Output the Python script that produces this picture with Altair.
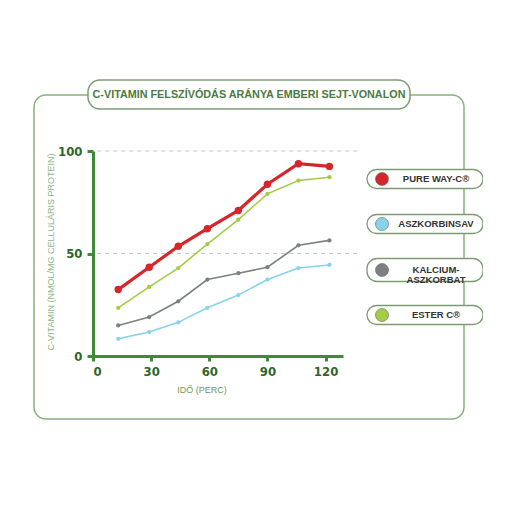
import altair as alt
import pandas as pd

# ---- data ----
minutes = [13, 29, 44, 59, 75, 90, 106, 122]
pure_way = [32.4, 43.3, 53.5, 62.1, 71.0, 83.8, 93.8, 92.5]
aszkorbinsav = [8.4, 11.7, 16.4, 23.5, 29.7, 37.3, 42.9, 44.4]
kalcium = [14.9, 19.0, 26.7, 37.3, 40.4, 43.3, 54.0, 56.4]
ester = [23.5, 33.7, 42.9, 54.6, 66.5, 79.1, 85.6, 87.2]

series_names = ["PURE WAY-C®", "ASZKORBINSAV", "KALCIUM-ASZKORBAT", "ESTER C®"]
series_values = [pure_way, aszkorbinsav, kalcium, ester]
series_colors = ["#d7262b", "#86d3ea", "#7d8080", "#a2cd45"]
legend_labels = ["PURE WAY-C®", "ASZKORBINSAV", "KALCIUM-\nASZKORBAT", "ESTER C®"]

x_ticks = [0, 30, 60, 90, 120]
y_ticks = [0, 50, 100]
grid_values = [50, 100]

title_text = "C-VITAMIN FELSZÍVÓDÁS ARÁNYA EMBERI SEJT-VONALON"
x_title = "IDŐ (PERC)"
y_title = "C-VITAMIN (NMOL/MG CELLULÁRIS PROTEIN)"

rows = []
for name, vals in zip(series_names, series_values):
    for m, v in zip(minutes, vals):
        rows.append({"series": name, "minute": m, "value": v})
df = pd.DataFrame(rows)
df_red = df[df.series == series_names[0]]
df_other = df[df.series != series_names[0]]

one = pd.DataFrame({"d": [0]})
FONT = "Liberation Sans, Arial, sans-serif"
NARROW = "DejaVu Sans Condensed, Liberation Sans Narrow, Liberation Sans, sans-serif"
AXIS_GREEN = "#3f8a36"
LABEL_GREEN = "#2f6629"

xs = alt.Scale(domain=[0, 129], nice=False)
ys = alt.Scale(domain=[0, 100], nice=False)
cs = alt.Scale(domain=series_names, range=series_colors)

x_axis = alt.Axis(values=x_ticks, title=None, grid=False, domainColor=AXIS_GREEN,
                  domainWidth=3, tickColor=AXIS_GREEN, tickWidth=3, tickSize=5,
                  labelFont=NARROW, labelFontWeight="bold", labelFontSize=13,
                  labelColor=LABEL_GREEN, labelPadding=4)
y_axis = alt.Axis(values=y_ticks, title=None, grid=False, domainColor=AXIS_GREEN,
                  domainWidth=3, tickColor=AXIS_GREEN, tickWidth=3, tickSize=6,
                  labelFont=NARROW, labelFontWeight="bold", labelFontSize=13,
                  labelColor=LABEL_GREEN, labelPadding=5)

# ---- decorations ----
outer_box = alt.Chart(one).mark_rect(
    cornerRadius=12, fill="white", fillOpacity=0, stroke="#86b27a", strokeWidth=1.5
).encode(x=alt.value(-59), x2=alt.value(371), y=alt.value(-56), y2=alt.value(268))

title_box = alt.Chart(one).mark_rect(
    cornerRadius=12, fill="white", stroke="#7f9a78", strokeWidth=1.5
).encode(x=alt.value(-5), x2=alt.value(317), y=alt.value(-71), y2=alt.value(-42))

title_mark = alt.Chart(one).mark_text(
    font=FONT, fontSize=10.8, fontWeight="bold", color="#4b7a3f",
    align="center", baseline="middle"
).encode(x=alt.value(156), y=alt.value(-56), text=alt.value(title_text))

grid_df = pd.DataFrame({"g": grid_values})
grid = alt.Chart(grid_df).mark_rule(
    color="#c8c8c8", strokeDash=[4, 4], strokeWidth=1
).encode(y=alt.Y("g:Q", scale=ys), x=alt.value(4), x2=alt.value(268))

# ---- series ----
red_line = alt.Chart(df_red).mark_line(strokeWidth=3.2).encode(
    x=alt.X("minute:Q", scale=xs, axis=x_axis),
    y=alt.Y("value:Q", scale=ys, axis=y_axis),
    color=alt.Color("series:N", scale=cs, legend=None),
)
red_pts = alt.Chart(df_red).mark_point(filled=True, opacity=1, size=55).encode(
    x=alt.X("minute:Q", scale=xs), y=alt.Y("value:Q", scale=ys),
    color=alt.Color("series:N", scale=cs, legend=None),
)
other_lines = alt.Chart(df_other).mark_line(strokeWidth=1.6).encode(
    x=alt.X("minute:Q", scale=xs), y=alt.Y("value:Q", scale=ys),
    color=alt.Color("series:N", scale=cs, legend=None),
    detail="series:N",
)
other_pts = alt.Chart(df_other).mark_point(filled=True, opacity=1, size=18).encode(
    x=alt.X("minute:Q", scale=xs), y=alt.Y("value:Q", scale=ys),
    color=alt.Color("series:N", scale=cs, legend=None),
)

# ---- axis titles ----
x_title_mark = alt.Chart(one).mark_text(
    font=FONT, fontSize=9, color="#6f9a63", align="center", baseline="middle"
).encode(x=alt.value(109), y=alt.value(239), text=alt.value(x_title))
y_title_mark = alt.Chart(one).mark_text(
    font=FONT, fontSize=9, color="#8db383", align="center", baseline="middle", angle=270
).encode(x=alt.value(-42), y=alt.value(101), text=alt.value(y_title))

# ---- legend ----
leg_y = [28, 73, 119, 164]
leg_half = [9.5, 9.5, 11.5, 9.5]
leg_layers = []
for lab, col, yc, hh in zip(legend_labels, series_colors, leg_y, leg_half):
    leg_layers.append(alt.Chart(one).mark_rect(
        cornerRadius=10, fill="white", stroke="#7d9a74", strokeWidth=1.3
    ).encode(x=alt.value(274), x2=alt.value(390), y=alt.value(yc - hh), y2=alt.value(yc + hh)))
    leg_layers.append(alt.Chart(one).mark_point(
        shape="circle", filled=True, opacity=1, size=170, fill=col,
        stroke="#666666", strokeWidth=0.6
    ).encode(x=alt.value(289), y=alt.value(yc)))
    leg_layers.append(alt.Chart(one).mark_text(
        font=FONT, fontSize=9.5, fontWeight="bold", color="#333333",
        align="center", baseline="middle", lineBreak="\n", lineHeight=10
    ).encode(x=alt.value(343), y=alt.value(yc), text=alt.value(lab)))

chart = alt.layer(
    outer_box, title_box, title_mark, grid,
    red_line, other_lines, other_pts, red_pts,
    x_title_mark, y_title_mark, *leg_layers
).resolve_scale(color="shared").properties(
    width=250, height=205,
    padding={"left": 85, "top": 143, "right": 140, "bottom": 140},
    autosize="none",
    background="white",
).configure_view(strokeWidth=0, stroke="transparent")

chart.save("out.html", embed_options={"renderer": "svg", "actions": False})
